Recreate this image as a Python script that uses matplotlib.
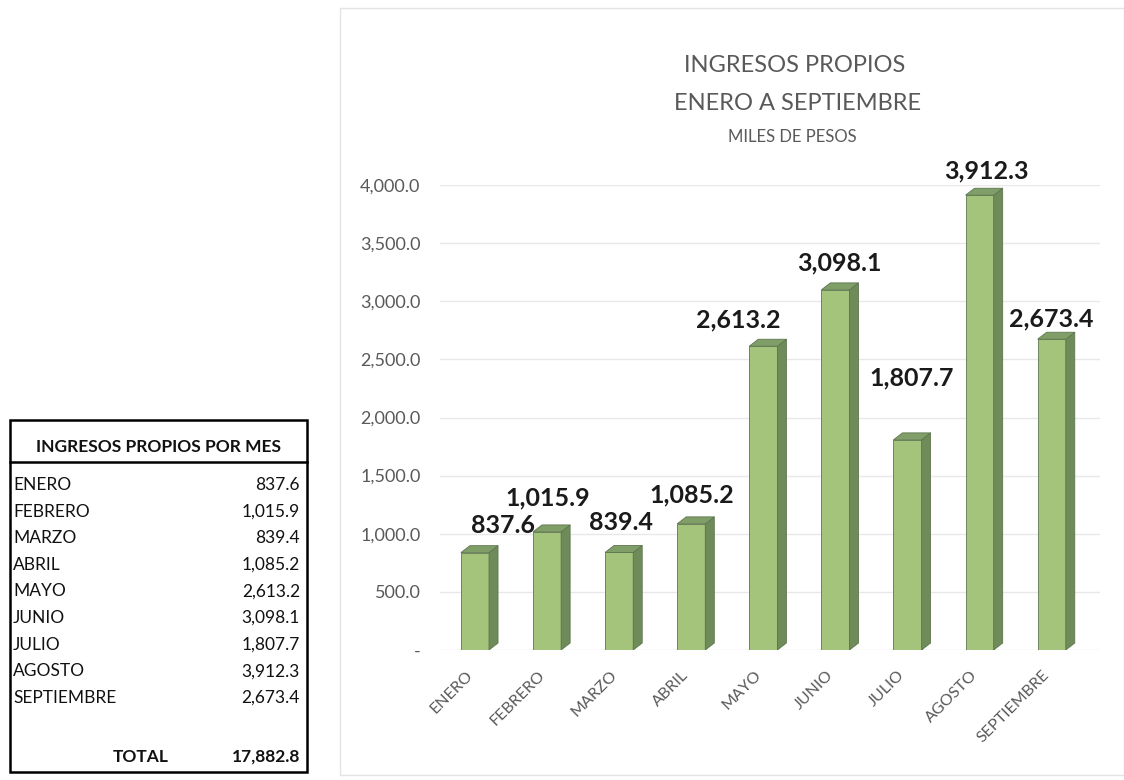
import matplotlib.pyplot as plt
import matplotlib.patches as patches
from matplotlib.ticker import FuncFormatter

plt.rcParams["font.family"] = ["Lato", "DejaVu Sans"]

meses = ["ENERO", "FEBRERO", "MARZO", "ABRIL", "MAYO", "JUNIO", "JULIO",
         "AGOSTO", "SEPTIEMBRE"]
ingresos = [837.6, 1015.9, 839.4, 1085.2, 2613.2, 3098.1, 1807.7, 3912.3, 2673.4]
y_ticks = [0, 500, 1000, 1500, 2000, 2500, 3000, 3500, 4000]

# label nudges in pixels (dx, dy above bar top)
label_nudge = [(28, 27), (1, 34), (2, 30), (0, 29), (-25, 26), (4, 27),
               (4, 62), (7, 24), (0, 20)]

W, H = 1124, 780
fig = plt.figure(figsize=(W / 100, H / 100), dpi=100)
fig.patch.set_facecolor("white")

# faint chart-area frame
frame = patches.Rectangle((340 / W, 5 / H), 784 / W, 767 / H, transform=fig.transFigure,
                          fill=False, edgecolor="#e3e3e3", linewidth=1.0)
fig.add_artist(frame)

# titles
grey = "#595959"
fig.text(795 / W, 1 - 65 / H, "INGRESOS PROPIOS", ha="center", va="center",
         fontsize=17, color=grey)
fig.text(798 / W, 1 - 103 / H, "ENERO A SEPTIEMBRE", ha="center", va="center",
         fontsize=17, color=grey)
fig.text(792 / W, 1 - 137 / H, "MILES DE PESOS", ha="center", va="center",
         fontsize=12, color=grey)

# ---- bar chart ----
ax = fig.add_axes([440 / W, 130 / H, 660 / W, 465 / H])
ax.set_xlim(-0.485, 8.67)
ax.set_ylim(0, 4000)
for s in ax.spines.values():
    s.set_visible(False)
ax.set_yticks(y_ticks)
ax.yaxis.set_major_formatter(FuncFormatter(lambda v, p: "-" if v == 0 else f"{v:,.1f}"))
ax.tick_params(axis="y", length=0, pad=14, labelsize=13, labelcolor=grey)
ax.set_xticks([])
ax.grid(axis="y", color="#e8e8e8", linewidth=1.0)
ax.set_axisbelow(True)

bw = 0.39      # front face width
ddx = 0.125    # depth, x units
ddy = 60       # depth, value units
front_c, side_c, top_c, edge_c = "#a4c47b", "#6f8b59", "#809e67", "#5e7650"

xs = list(range(len(meses)))
ax.bar(xs, ingresos, width=bw, color=front_c, edgecolor=edge_c, linewidth=0.6, zorder=3)
for x, v in zip(xs, ingresos):
    r = x + bw / 2
    l = x - bw / 2
    side = patches.Polygon([(r, 0), (r + ddx, ddy), (r + ddx, v + ddy), (r, v)],
                           closed=True, facecolor=side_c, edgecolor=edge_c,
                           linewidth=0.6, zorder=3)
    top = patches.Polygon([(l, v), (r, v), (r + ddx, v + ddy), (l + ddx, v + ddy)],
                          closed=True, facecolor=top_c, edgecolor=edge_c,
                          linewidth=0.6, zorder=3)
    ax.add_patch(side)
    ax.add_patch(top)

for x, v, (ndx, ndy) in zip(xs, ingresos, label_nudge):
    ax.annotate(f"{v:,.1f}", xy=(x, v), xytext=(ndx * 0.72, ndy * 0.72),
                textcoords="offset points", ha="center", va="center",
                fontsize=18, fontweight="bold", color="#1a1a1a", zorder=5,
                annotation_clip=False)

for x, m in zip(xs, meses):
    ax.annotate(m, xy=(x, 0), xytext=(-7, -13), textcoords="offset points",
                rotation=45, ha="right", va="top", rotation_mode="anchor",
                fontsize=11.5, color=grey, annotation_clip=False)

# ---- table ----
tx0, ty0, tw, th = 10, 8, 297, 352
axt = fig.add_axes([tx0 / W, ty0 / H, tw / W, th / H])
axt.set_xlim(0, 1)
axt.set_ylim(0, 1)
axt.axis("off")
axt.add_patch(patches.Rectangle((0, 0), 1, 1, fill=False, edgecolor="black",
                                linewidth=1.8, clip_on=False))
head_y = 1 - 42 / th
axt.plot([0, 1], [head_y, head_y], color="black", linewidth=1.8, clip_on=False)
axt.text(0.5, 1 - 27 / th, "INGRESOS PROPIOS POR MES", ha="center", va="center",
         fontsize=12.5, fontweight="bold", color="#111111")

row0 = 1 - 65 / th
step = 26.6 / th
for i, (m, v) in enumerate(zip(meses, ingresos)):
    yy = row0 - i * step
    axt.text(0.01, yy, m, ha="left", va="center", fontsize=12.5, color="#111111")
    axt.text(0.976, yy, f"{v:,.1f}", ha="right", va="center", fontsize=12.5,
             color="#111111")

total = sum(ingresos)
axt.text(0.44, 15 / th, "TOTAL", ha="center", va="center", fontsize=12.5,
         fontweight="bold", color="#111111")
axt.text(0.976, 15 / th, f"{total:,.1f}", ha="right", va="center", fontsize=12.5,
         fontweight="bold", color="#111111")

fig.savefig("out.png", dpi=100)
